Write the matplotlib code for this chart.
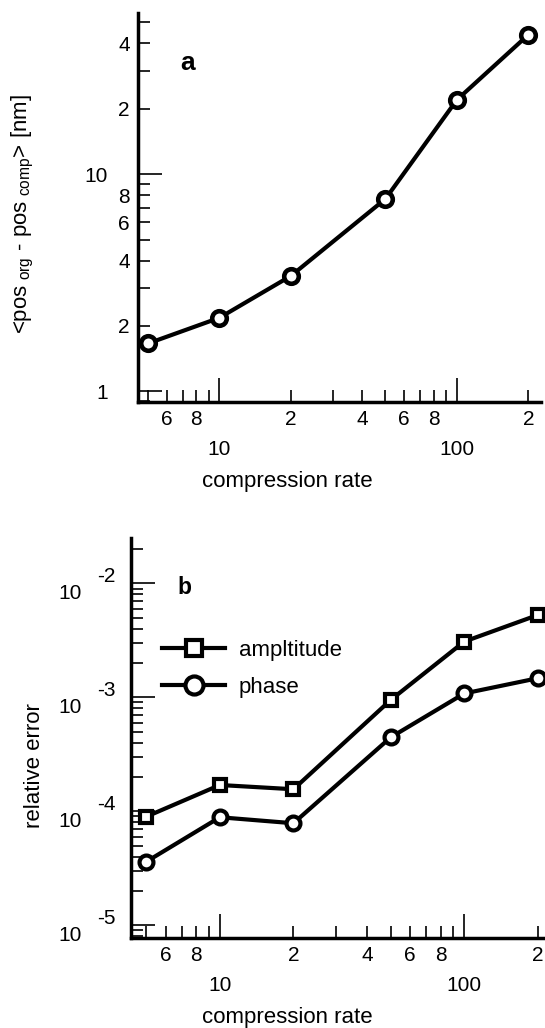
import matplotlib
matplotlib.use('Agg')
import matplotlib.pyplot as plt
import numpy as np
from matplotlib import ticker, transforms

# values
compression_rate = [5, 10, 20, 50, 100, 200]
pos_error_nm = [1.66, 2.18, 3.40, 7.69, 22.0, 43.9]
amplitude_error = [8.97e-5, 1.70e-4, 1.56e-4, 9.47e-4, 3.08e-3, 5.27e-3]
phase_error = [3.61e-5, 8.86e-5, 7.85e-5, 4.45e-4, 1.08e-3, 1.47e-3]
legend_labels = ['ampltitude', 'phase']
rel_err_decades = [1e-5, 1e-4, 1e-3, 1e-2]
rel_err_exponents = ['-5', '-4', '-3', '-2']

plt.rcParams['font.family'] = ['Liberation Sans', 'DejaVu Sans']
plt.rcParams['mathtext.fontset'] = 'custom'
plt.rcParams['mathtext.rm'] = 'Liberation Sans'

DPI = 100


def px(v):
    """pixels -> points at the output dpi"""
    return v * 72 / DPI


def minor_label(v, pos):
    lead = int(round(v / 10 ** np.floor(np.log10(v))))
    return str(lead) if lead in (2, 4, 6, 8) else ''


def major_label(v, pos):
    return f'{v:g}'


def style_axes(ax):
    for side in ('top', 'right'):
        ax.spines[side].set_visible(False)
    for side in ('left', 'bottom'):
        ax.spines[side].set_linewidth(2.5)
    for axis in (ax.xaxis, ax.yaxis):
        axis.set_major_locator(ticker.LogLocator(base=10))
        axis.set_minor_locator(ticker.LogLocator(base=10, subs=np.arange(2, 10)))
        axis.set_major_formatter(ticker.FuncFormatter(major_label))
        axis.set_minor_formatter(ticker.FuncFormatter(minor_label))
    ax.tick_params(which='major', direction='in', length=px(24), width=1.2, labelsize=15)
    ax.tick_params(which='minor', direction='in', length=px(12), width=1.2, labelsize=15)
    ax.tick_params(axis='x', which='major', pad=px(38))
    ax.tick_params(axis='x', which='minor', pad=px(8))
    ax.tick_params(axis='y', which='minor', pad=px(8))


fig = plt.figure(figsize=(5.45, 10.28), dpi=DPI)

# ---- panel a ----
ax1 = fig.add_axes([0.2532, 0.6087, 0.7394, 0.3787])
ax1.set_xscale('log')
ax1.set_yscale('log')
ax1.plot(compression_rate, pos_error_nm, '-o', color='black', lw=3,
         ms=10.5, mew=3.3, mfc='white', clip_on=False, zorder=3)
ax1.set_xlim(4.54, 226)
ax1.set_ylim(0.89, 55.3)
style_axes(ax1)
ax1.tick_params(axis='y', which='major', pad=px(30))
ax1.set_xlabel('compression rate', fontsize=16, va='center')
ax1.xaxis.set_label_coords(0.370, -0.203)
ax1.set_ylabel(r'<pos$_{\mathrm{\ org}}$ - pos$_{\mathrm{\ comp}}$> [nm]', fontsize=16, va='center')
ax1.yaxis.set_label_coords(-0.285, 0.484)
ax1.text(0.122, 0.872, 'a', transform=ax1.transAxes, fontsize=19,
         fontweight='bold', ha='center', va='center')

# ---- panel b ----
ax2 = fig.add_axes([0.2404, 0.0873, 0.7596, 0.3891])
ax2.set_xscale('log')
ax2.set_yscale('log')
ax2.plot(compression_rate, amplitude_error, '-s', color='black', lw=3,
         ms=9, mew=3, mfc='white', clip_on=False, zorder=3, label=legend_labels[0])
ax2.plot(compression_rate, phase_error, '-o', color='black', lw=3,
         ms=10, mew=3, mfc='white', clip_on=False, zorder=3, label=legend_labels[1])
ax2.set_xlim(4.33, 214)
ax2.set_ylim(10 ** -5.114, 10 ** -1.605)
style_axes(ax2)
ax2.yaxis.set_major_formatter(ticker.NullFormatter())
ax2.yaxis.set_minor_formatter(ticker.NullFormatter())

# "10" with a raised exponent beside each decade tick
trans = transforms.blended_transform_factory(ax2.transAxes, ax2.transData)
for val, expo in zip(rel_err_decades, rel_err_exponents):
    base_t = transforms.offset_copy(trans, fig=fig, x=-49, y=-10, units='dots')
    exp_t = transforms.offset_copy(trans, fig=fig, x=-34, y=7, units='dots')
    ax2.text(0, val, '10', transform=base_t, fontsize=15, ha='right', va='center')
    ax2.text(0, val, expo, transform=exp_t, fontsize=15, ha='left', va='center')

ax2.set_xlabel('compression rate', fontsize=16, va='center')
ax2.xaxis.set_label_coords(0.377, -0.1975)
ax2.set_ylabel('relative error', fontsize=16, va='center')
ax2.yaxis.set_label_coords(-0.232, 0.431)
ax2.text(0.130, 0.878, 'b', transform=ax2.transAxes, fontsize=16.5,
         fontweight='bold', ha='center', va='center')
ax2.legend(loc='upper left', bbox_to_anchor=(0.075, 0.745), frameon=False,
           fontsize=16, handlelength=2.85, handletextpad=0.6, labelspacing=0.7,
           borderpad=0, borderaxespad=0, markerscale=1.3)

fig.savefig('out.png', dpi=DPI)
